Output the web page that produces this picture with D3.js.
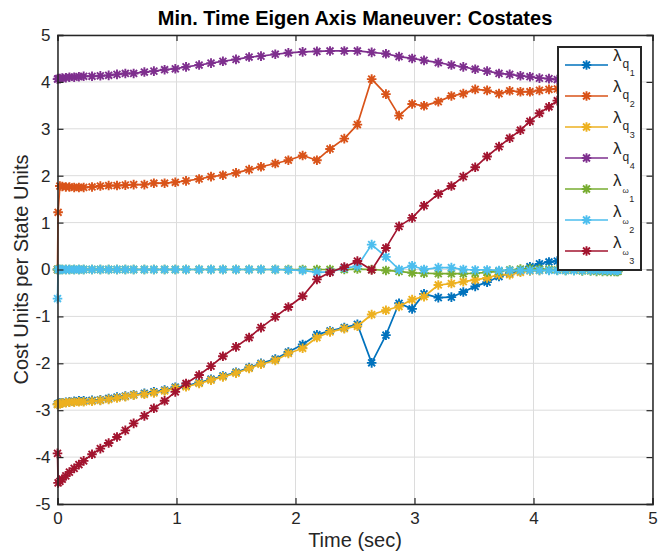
<!DOCTYPE html>
<html>
<head>
<meta charset="utf-8">
<script src="https://cdn.jsdelivr.net/npm/d3@7"></script>
<style>
  body { margin: 0; background: #fff; }
  svg { display: block; font-family: "Liberation Sans", Arial, Helvetica, sans-serif; }
</style>
</head>
<body>
<svg id="chart" width="659" height="554"></svg>
<script>
// Collocation times (sec)
const time = [0, 0.005, 0.02, 0.04, 0.07, 0.10, 0.14, 0.18, 0.22, 0.29, 0.36, 0.43, 0.50, 0.57, 0.64, 0.73, 0.81, 0.90, 0.99,
  1.08, 1.19, 1.29, 1.39, 1.50, 1.61, 1.71, 1.83, 1.94, 2.06, 2.18, 2.29, 2.41, 2.52, 2.64, 2.76, 2.87, 2.98,
  3.08, 3.20, 3.31, 3.41, 3.51, 3.61, 3.71, 3.80, 3.89, 3.97, 4.05, 4.13, 4.20, 4.27, 4.34, 4.41, 4.48, 4.53,
  4.58, 4.62, 4.65, 4.68, 4.70, 4.71];

// Costate histories
const lamQ1 = [-2.87, -2.86, -2.85, -2.84, -2.83, -2.82, -2.81, -2.80, -2.80, -2.79, -2.78, -2.75, -2.72, -2.70, -2.67, -2.64, -2.61, -2.57, -2.51,
  -2.48, -2.41, -2.34, -2.27, -2.19, -2.09, -2.00, -1.91, -1.76, -1.60, -1.39, -1.31, -1.24, -1.17, -1.99, -1.40, -0.72, -0.84,
  -0.52, -0.60, -0.59, -0.48, -0.36, -0.27, -0.15, -0.08, -0.03, 0.06, 0.12, 0.16, 0.18, 0.18, 0.17, 0.16, 0.14, 0.12,
  0.10, 0.08, 0.06, 0.05, 0.04, 0.03];
const lamQ2 = [0.00, 1.22, 1.78, 1.77, 1.76, 1.76, 1.75, 1.75, 1.75, 1.76, 1.78, 1.79, 1.79, 1.80, 1.81, 1.81, 1.84, 1.84, 1.86,
  1.89, 1.93, 1.98, 2.01, 2.06, 2.13, 2.19, 2.26, 2.33, 2.43, 2.33, 2.57, 2.79, 3.09, 4.06, 3.74, 3.28, 3.53,
  3.49, 3.58, 3.70, 3.75, 3.84, 3.82, 3.75, 3.81, 3.79, 3.79, 3.82, 3.84, 3.85, 3.86, 3.87, 3.88, 3.88, 3.89,
  3.89, 3.90, 3.90, 3.90, 3.90, 3.90];
const lamQ3 = [-2.88, -2.87, -2.86, -2.85, -2.84, -2.83, -2.83, -2.82, -2.82, -2.81, -2.79, -2.77, -2.74, -2.71, -2.68, -2.66, -2.63, -2.59, -2.53,
  -2.50, -2.43, -2.36, -2.29, -2.21, -2.11, -2.02, -1.94, -1.79, -1.68, -1.45, -1.33, -1.26, -1.21, -0.96, -0.87, -0.79, -0.64,
  -0.58, -0.33, -0.30, -0.26, -0.22, -0.18, -0.11, -0.11, -0.06, -0.03, -0.02, -0.01, -0.01, -0.01, -0.01, -0.01, -0.01, -0.01,
  -0.01, -0.01, -0.01, -0.01, -0.01, -0.01];
const lamQ4 = [4.06, 4.07, 4.07, 4.08, 4.09, 4.10, 4.10, 4.11, 4.12, 4.12, 4.13, 4.14, 4.16, 4.18, 4.18, 4.21, 4.23, 4.26, 4.28,
  4.32, 4.36, 4.40, 4.44, 4.48, 4.53, 4.55, 4.59, 4.62, 4.64, 4.65, 4.66, 4.66, 4.66, 4.63, 4.60, 4.54, 4.50,
  4.46, 4.41, 4.36, 4.32, 4.27, 4.23, 4.18, 4.16, 4.13, 4.11, 4.08, 4.07, 4.05, 4.04, 4.03, 4.02, 4.01, 4.01,
  4.00, 4.00, 4.00, 4.00, 4.00, 4.00];
const lamW1 = [0.00, 0.00, 0.00, 0.00, 0.00, 0.00, 0.00, 0.00, 0.00, 0.00, 0.00, 0.00, 0.00, 0.00, 0.00, 0.00, 0.00, 0.00, 0.00,
  0.00, 0.00, 0.00, 0.00, 0.00, 0.00, 0.00, 0.00, 0.00, 0.00, 0.00, 0.00, 0.00, 0.01, 0.00, -0.02, -0.04, -0.07,
  -0.08, -0.09, -0.09, -0.09, -0.08, -0.06, -0.04, -0.01, 0.01, 0.02, 0.01, 0.00, -0.01, -0.02, -0.02, -0.03, -0.03, -0.04,
  -0.04, -0.04, -0.04, -0.04, -0.04, -0.04];
const lamW2 = [-0.62, 0.00, 0.00, 0.00, 0.00, 0.00, 0.00, 0.00, 0.00, 0.00, 0.00, 0.00, 0.00, 0.00, 0.00, 0.00, 0.00, 0.00, 0.00,
  0.00, 0.00, 0.00, 0.00, 0.00, 0.00, 0.00, 0.00, -0.01, -0.02, -0.06, -0.05, 0.03, 0.07, 0.53, 0.27, 0.00, 0.08,
  0.00, 0.04, 0.04, 0.00, -0.01, -0.01, -0.02, -0.02, -0.02, -0.02, -0.02, -0.02, -0.02, -0.02, -0.02, -0.02, -0.02, -0.02,
  -0.02, -0.02, -0.02, -0.02, -0.02, -0.02];
const lamW3 = [-3.92, -4.55, -4.52, -4.47, -4.40, -4.32, -4.24, -4.16, -4.08, -3.94, -3.82, -3.70, -3.57, -3.43, -3.28, -3.12, -2.96, -2.80, -2.61,
  -2.43, -2.25, -2.06, -1.85, -1.65, -1.45, -1.24, -1.01, -0.80, -0.57, -0.21, -0.06, 0.05, 0.18, -0.01, 0.46, 0.92, 1.10,
  1.36, 1.61, 1.78, 1.98, 2.18, 2.41, 2.62, 2.80, 2.97, 3.16, 3.33, 3.47, 3.60, 3.73, 3.86, 3.98, 4.10, 4.19,
  4.27, 4.34, 4.40, 4.45, 4.48, 4.50];

const seriesValues = [lamQ1, lamQ2, lamQ3, lamQ4, lamW1, lamW2, lamW3];
const seriesColors = ["#0072BD", "#D95319", "#EDB120", "#7E2F8E", "#77AC30", "#4DBEEE", "#A2142F"];
// legend label parts: λ, subscript, sub-subscript
const legendSub = ["q", "q", "q", "q", "ω", "ω", "ω"];
const legendIdx = ["1", "2", "3", "4", "1", "2", "3"];

const xTicks = [0, 1, 2, 3, 4, 5];
const yTicks = [-5, -4, -3, -2, -1, 0, 1, 2, 3, 4, 5];

const titleText = "Min. Time Eigen Axis Maneuver: Costates";
const xLabel = "Time (sec)";
const yLabel = "Cost Units per State Units";

const svg = d3.select("#chart");
const plot = { left: 57.5, right: 652.5, top: 35, bottom: 504 };

const x = d3.scaleLinear().domain([0, 5]).range([plot.left, plot.right]);
const y = d3.scaleLinear().domain([-5, 5]).range([plot.bottom, plot.top]);

const axisColor = "#262626";
const fmt = d => String(d); // plain hyphen for negatives

// grid
const grid = svg.append("g");
grid.selectAll("line.gx").data(xTicks).enter().append("line")
  .attr("x1", d => x(d)).attr("x2", d => x(d))
  .attr("y1", plot.top).attr("y2", plot.bottom)
  .attr("stroke", "#dcdcdc").attr("stroke-width", 1);
grid.selectAll("line.gy").data(yTicks).enter().append("line")
  .attr("x1", plot.left).attr("x2", plot.right)
  .attr("y1", d => y(d)).attr("y2", d => y(d))
  .attr("stroke", "#dcdcdc").attr("stroke-width", 1);

// series
const star = (r) => {
  const d = r * 0.72;
  return `M${-r},0H${r}M0,${-r}V${r}M${-d},${-d}L${d},${d}M${-d},${d}L${d},${-d}`;
};
const line = d3.line().x(d => x(d[0])).y(d => y(d[1]));

seriesValues.forEach((vals, i) => {
  const pts = time.map((t, k) => [t, vals[k]]);
  const g = svg.append("g");
  g.append("path").datum(pts).attr("d", line)
    .attr("fill", "none").attr("stroke", seriesColors[i]).attr("stroke-width", 1.7)
    .attr("stroke-linejoin", "round");
  g.selectAll("path.m").data(pts).enter().append("path")
    .attr("transform", d => `translate(${x(d[0])},${y(d[1])})`)
    .attr("d", star(4.8))
    .attr("fill", "none").attr("stroke", seriesColors[i]).attr("stroke-width", 1.9);
});

// axes box and ticks
const axes = svg.append("g");
axes.append("g").attr("transform", `translate(0,${plot.bottom})`)
  .call(d3.axisBottom(x).tickValues(xTicks).tickSize(-6).tickPadding(8).tickFormat(fmt));
axes.append("g").attr("transform", `translate(0,${plot.top})`)
  .call(d3.axisTop(x).tickValues(xTicks).tickSize(-6).tickFormat(""));
axes.append("g").attr("transform", `translate(${plot.left},0)`)
  .call(d3.axisLeft(y).tickValues(yTicks).tickSize(-6).tickPadding(7).tickFormat(fmt));
axes.append("g").attr("transform", `translate(${plot.right},0)`)
  .call(d3.axisRight(y).tickValues(yTicks).tickSize(-6).tickFormat(""));
axes.selectAll(".domain").attr("stroke", axisColor).attr("stroke-width", 1.5);
axes.selectAll(".tick line").attr("stroke", axisColor).attr("stroke-width", 1.2);
axes.selectAll(".tick text").attr("fill", "#262626").style("font-size", "17px")
  .style("font-family", "Liberation Sans, Arial, sans-serif");

// title and axis labels
svg.append("text").attr("x", (plot.left + plot.right) / 2).attr("y", 25)
  .attr("text-anchor", "middle").attr("font-weight", "bold").attr("font-size", 20)
  .attr("fill", "#000").text(titleText);
svg.append("text").attr("x", (plot.left + plot.right) / 2).attr("y", 547)
  .attr("text-anchor", "middle").attr("font-size", 20).attr("fill", "#262626").text(xLabel);
svg.append("text").attr("transform", `translate(28,${(plot.top + plot.bottom) / 2}) rotate(-90)`)
  .attr("text-anchor", "middle").attr("font-size", 20).attr("fill", "#262626").text(yLabel);

// legend
const leg = svg.append("g");
const lb = { x: 558, y: 47, w: 83, h: 223 };
leg.append("rect").attr("x", lb.x).attr("y", lb.y).attr("width", lb.w).attr("height", lb.h)
  .attr("fill", "#fff").attr("stroke", axisColor).attr("stroke-width", 2);
const rowY = d3.scaleLinear().domain([0, 6]).range([65, 251]);
seriesColors.forEach((c, i) => {
  const ry = rowY(i);
  leg.append("line").attr("x1", 565).attr("x2", 608).attr("y1", ry).attr("y2", ry)
    .attr("stroke", c).attr("stroke-width", 1.7);
  leg.append("path").attr("transform", `translate(586.5,${ry})`).attr("d", star(4.8))
    .attr("fill", "none").attr("stroke", c).attr("stroke-width", 1.9);
  const isW = legendSub[i] === "ω";
  const t = leg.append("text").attr("x", 613).attr("y", ry - (isW ? 3 : 4)).attr("fill", "#262626");
  t.append("tspan").attr("font-size", 17).text("λ");
  t.append("tspan").attr("font-size", isW ? 8 : 12).attr("dy", 7).attr("dx", 1).text(legendSub[i]);
  t.append("tspan").attr("font-size", 9).attr("dy", isW ? 9 : 8).attr("dx", 0.5).text(legendIdx[i]);
});
</script>
</body>
</html>
